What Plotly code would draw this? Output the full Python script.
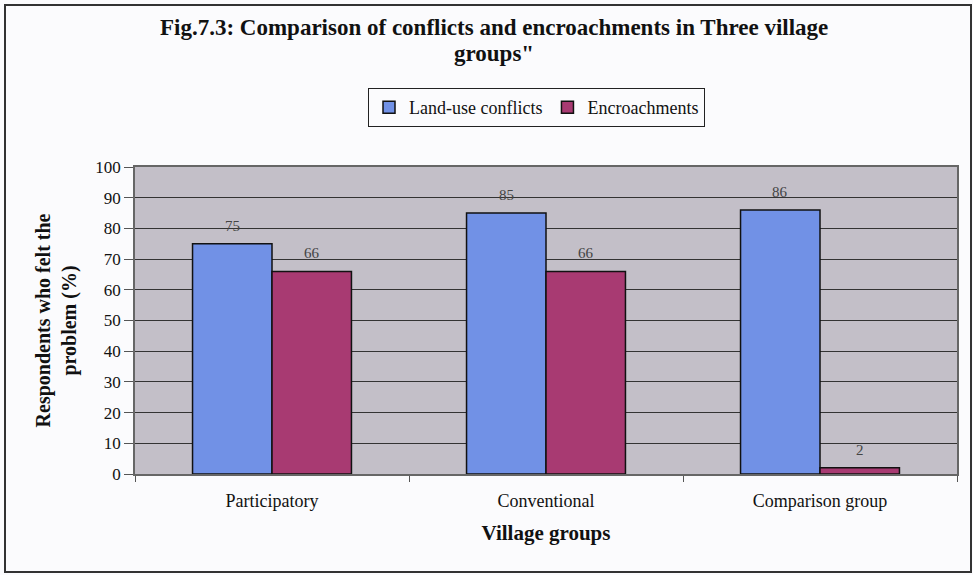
import plotly.graph_objects as go

categories = ["Participatory", "Conventional", "Comparison group"]
land_use_conflicts = [75, 85, 86]
encroachments = [66, 66, 2]
y_ticks = [0, 10, 20, 30, 40, 50, 60, 70, 80, 90, 100]
title_lines = ["Fig.7.3: Comparison of conflicts and encroachments in Three village", "groups\""]

SERIF = "Liberation Serif"
PLOT_L, PLOT_R, PLOT_T, PLOT_B = 135, 957, 167, 474
PW, PH = PLOT_R - PLOT_L, PLOT_B - PLOT_T

fig = go.Figure()
fig.add_trace(go.Bar(
    x=categories, y=land_use_conflicts, name="Land-use conflicts",
    marker=dict(color="#7191e6", line=dict(color="#111111", width=1.5)),
))
fig.add_trace(go.Bar(
    x=categories, y=encroachments, name="Encroachments",
    marker=dict(color="#a83a72", line=dict(color="#111111", width=1.5)),
))

bar_px = PW / 3 * (1 - 0.42) / 2
for series, shift in ((land_use_conflicts, -bar_px / 2), (encroachments, bar_px / 2)):
    for cat, v in zip(categories, series):
        fig.add_annotation(x=cat, y=v, xref="x", yref="y", text=str(v),
                           showarrow=False, xshift=shift, yshift=8, yanchor="bottom",
                           font=dict(family=SERIF, size=15, color="#444444"))

for line, y_px in zip(title_lines, (27, 53)):
    fig.add_annotation(
        text="<b>" + line + "</b>",
        xref="paper", yref="paper", x=(494 - PLOT_L) / PW, y=(PLOT_B - y_px) / PH,
        xanchor="center", yanchor="middle", showarrow=False,
        font=dict(family=SERIF, size=23, color="#111111"),
    )

fig.update_layout(
    width=973, height=575,
    margin=dict(l=PLOT_L, r=973 - PLOT_R, t=PLOT_T, b=575 - PLOT_B),
    paper_bgcolor="#fbfbfd",
    plot_bgcolor="#c3bfc8",
    barmode="group", bargap=0.42, bargroupgap=0,
    font=dict(family=SERIF, color="#111111"),
    legend=dict(
        orientation="h", x=(368 - PLOT_L) / PW, xanchor="left",
        y=(PLOT_B - 88) / PH, yanchor="top",
        bgcolor="#fbfbfd", bordercolor="#222222", borderwidth=1,
        font=dict(family=SERIF, size=18, color="#111111"),
        itemwidth=30, tracegroupgap=0,
    ),
    showlegend=True,
    xaxis=dict(
        tickson="boundaries", ticks="outside", ticklen=6, tickcolor="#555555",
        showline=True, linecolor="#666666", linewidth=1.5, mirror=True,
        tickfont=dict(family=SERIF, size=18, color="#111111"),
        ticklabelstandoff=10,
        title=dict(text="<b>Village groups</b>", font=dict(family=SERIF, size=21, color="#111111"), standoff=15),
    ),
    yaxis=dict(
        range=[0, 100], tickvals=y_ticks, ticks="outside", ticklen=9, tickcolor="#555555",
        showline=True, linecolor="#666666", linewidth=1.5, mirror=True,
        gridcolor="#333333", gridwidth=1,
        tickfont=dict(family=SERIF, size=17, color="#111111"),
        title=dict(text="<b>Respondents who felt the<br>problem (%)</b>", font=dict(family=SERIF, size=20, color="#111111"), standoff=13),
        zeroline=False,
    ),
)

fig.add_shape(type="rect", xref="paper", yref="paper",
              x0=(5 - PLOT_L) / PW, x1=(971 - PLOT_L) / PW, y0=(PLOT_B - 572) / PH, y1=(PLOT_B - 5) / PH,
              line=dict(color="#333333", width=2), layer="below")

fig.write_html("out.html")
